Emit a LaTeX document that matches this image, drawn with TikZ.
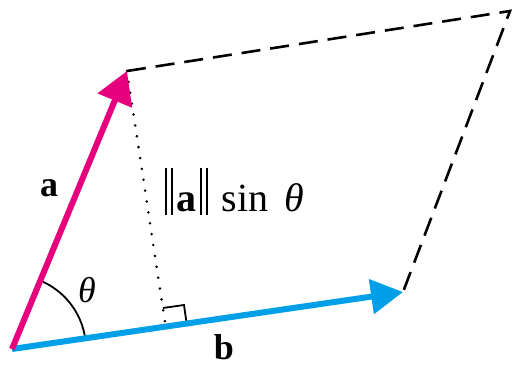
\documentclass[tikz,border=0pt]{standalone}
\usepackage{fontspec}
\setmainfont{Liberation Serif}
\usetikzlibrary{arrows.meta}
\definecolor{vecpink}{RGB}{230,0,126}
\definecolor{vecblue}{RGB}{0,160,233}
\newcommand\normbar{\rule[-0.1em]{0.05em}{1.18em}\kern0.1em\rule[-0.1em]{0.05em}{1.18em}}
\begin{document}
\begin{tikzpicture}[x=1pt,y=1pt,
  vecline/.style={line width=6pt},
  dashline/.style={line width=2.6pt, dash pattern=on 19pt off 10pt},
  dotline/.style={line width=2.8pt, line cap=round, dash pattern=on 0pt off 11pt},
  thinline/.style={line width=1.8pt},
  lbl/.style={inner sep=0pt, font=\fontsize{36}{40}\selectfont},
  biglbl/.style={inner sep=0pt, font=\fontsize{40}{44}\selectfont}]
\useasboundingbox (0,0) rectangle (512,365);
\coordinate (O) at (12,16);
\coordinate (A) at (127,294);
\coordinate (B) at (403,73);
\coordinate (C) at (510,354);
\coordinate (F) at (166,36);
\coordinate (P1) at (163,57);
\coordinate (P2) at (184,60);
\coordinate (P3) at (187,39);
% dashed sides
\draw[dashline] (A) -- (C) -- (B);
% height
\draw[dotline] (A) -- (F);
% right angle mark
\draw[thinline] (P1) -- (P2) -- (P3);
% angle arc
\draw[thinline] (O) ++(8.4:74) arc[start angle=8.4, end angle=67.5, radius=74];
% vectors
\draw[vecline, vecblue, -{Triangle[length=32pt,width=34pt]}] (O) -- (B);
\draw[vecline, vecpink, -{Triangle[length=32pt,width=36pt]}] (O) -- (A);
% labels
\node[lbl, anchor=base] (la) at (49,168) {\textbf{a}};
\node[lbl, anchor=base] (lb) at (224,6) {\textbf{b}};
\node[lbl, anchor=base] (lt) at (87,63) {\textit{θ}};
\node[biglbl, anchor=base west] (lh) at (165,154) {\normbar\kern0.08em\textbf{a}\kern0.08em\normbar\kern0.35em sin\kern0.4em\textit{θ}};
\end{tikzpicture}
\end{document}
